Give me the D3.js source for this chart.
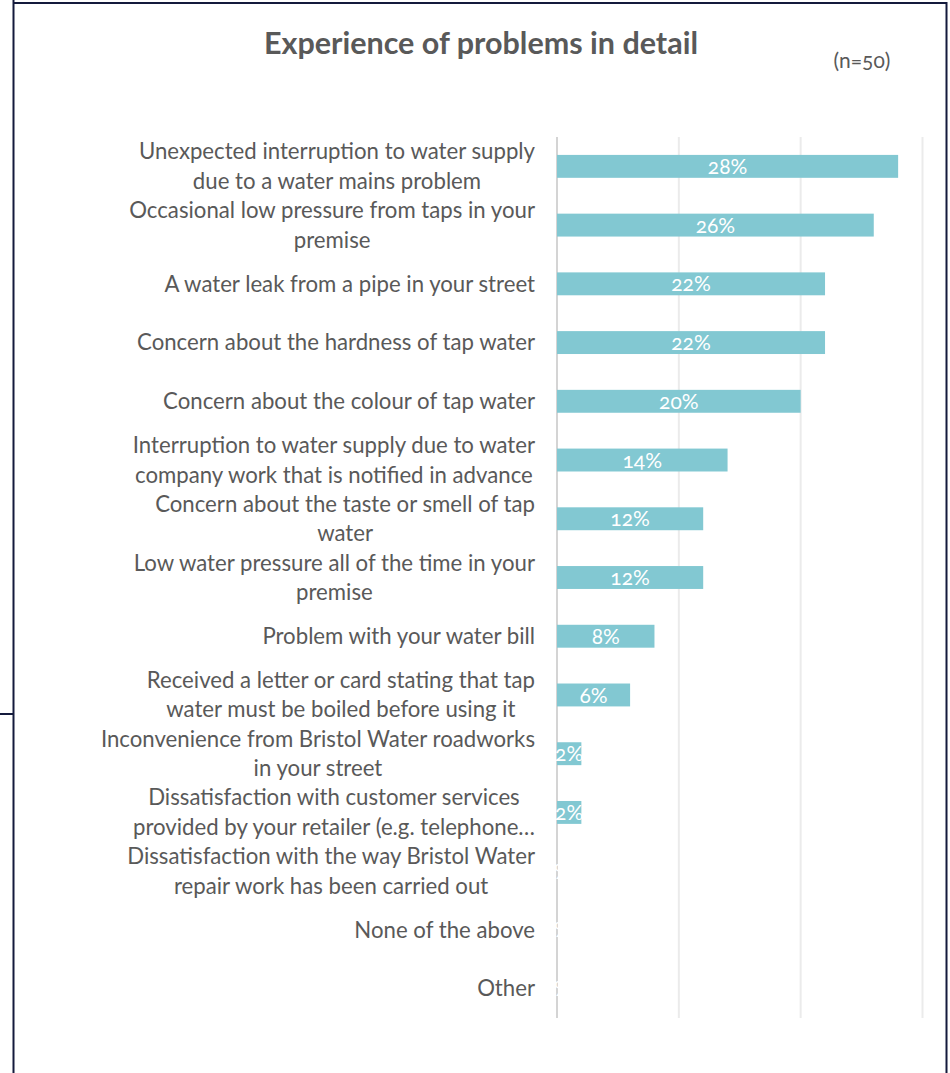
<!DOCTYPE html>
<html>
<head>
<meta charset="utf-8">
<script src="https://cdn.jsdelivr.net/npm/d3@7"></script>
<style>
  html, body { margin: 0; padding: 0; background: #fff; }
  svg { display: block; font-family: Lato, "Open Sans", sans-serif; }
  .val { font-variant-numeric: oldstyle-nums; font-feature-settings: "onum" 1; }
</style>
</head>
<body>
<svg id="chart" width="950" height="1073"></svg>
<script>
// Survey categories (each entry is the list of wrapped label lines)
const categories = [
  ["Unexpected interruption to water supply", "due to a water mains problem"],
  ["Occasional low pressure from taps in your", "premise"],
  ["A water leak from a pipe in your street"],
  ["Concern about the hardness of tap water"],
  ["Concern about the colour of tap water"],
  ["Interruption to water supply due to water", "company work that is notified in advance"],
  ["Concern about the taste or smell of tap", "water"],
  ["Low water pressure all of the time in your", "premise"],
  ["Problem with your water bill"],
  ["Received a letter or card stating that tap", "water must be boiled before using it"],
  ["Inconvenience from Bristol Water roadworks", "in your street"],
  ["Dissatisfaction with customer services", "provided by your retailer (e.g. telephone…"],
  ["Dissatisfaction with the way Bristol Water", "repair work has been carried out"],
  ["None of the above"],
  ["Other"]
];
// Share of respondents reporting each problem (%)
const values = [28, 26, 22, 22, 20, 14, 12, 12, 8, 6, 2, 2, 0, 0, 0];
const gridTicks = [0, 10, 20, 30];
const titleText = "Experience of problems in detail";
const sampleText = "(n=50)";

const svg = d3.select("#chart");

// outer frame
const frame = svg.append("g").attr("stroke", "#141a3c").attr("stroke-width", 2).attr("fill", "none");
frame.append("line").attr("x1", 13.5).attr("x2", 13.5).attr("y1", 0).attr("y2", 1073);
frame.append("line").attr("x1", 13).attr("x2", 947).attr("y1", 3).attr("y2", 3);
frame.append("line").attr("x1", 946.5).attr("x2", 946.5).attr("y1", 2).attr("y2", 1073);
frame.append("line").attr("x1", 0).attr("x2", 13).attr("y1", 714).attr("y2", 714);

// title and sample size
svg.append("text").attr("x", 481).attr("y", 54).attr("text-anchor", "middle")
  .attr("font-size", 30.5).attr("font-weight", 700).attr("fill", "#595959").text(titleText);
svg.append("text").attr("x", 862).attr("y", 68).attr("text-anchor", "middle")
  .attr("font-size", 21).attr("fill", "#595959").attr("class", "val").text(sampleText);

const x = d3.scaleLinear().domain([0, 30]).range([557, 922.5]);
const y = d3.scaleBand().domain(d3.range(categories.length)).range([137, 1018])
  .paddingInner(0.61).paddingOuter(0.305);

// vertical gridlines
svg.append("g").selectAll("line").data(gridTicks).join("line")
  .attr("x1", d => x(d)).attr("x2", d => x(d))
  .attr("y1", 137).attr("y2", 1018)
  .attr("stroke", d => d === 0 ? "#d4d4d4" : "#ebebeb").attr("stroke-width", 2);

// bars
svg.append("g").selectAll("rect").data(values).join("rect")
  .attr("x", x(0)).attr("y", (d, i) => y(i))
  .attr("width", d => x(d) - x(0)).attr("height", y.bandwidth())
  .attr("fill", "#82c8d2");

// value labels inside bars
svg.append("g").selectAll("text").data(values).join("text")
  .attr("class", "val")
  .attr("x", d => (x(d) + x(0)) / 2)
  .attr("y", (d, i) => y(i) + y.bandwidth() / 2)
  .attr("dy", "0.36em").attr("text-anchor", "middle")
  .attr("font-size", 21).attr("fill", "#ffffff")
  .text(d => d + "%");

// category labels: block right-aligned, lines centred within it
const labelRight = 535;
const lineH = 29.5;
const lab = svg.append("g").attr("font-size", 22.2).attr("fill", "#595959");
categories.forEach((lines, i) => {
  const cy = y(i) + y.bandwidth() / 2;
  const g = lab.append("g");
  const texts = lines.map((ln, k) => g.append("text")
    .attr("y", cy + (k - (lines.length - 1) / 2) * lineH)
    .attr("dy", "0.35em").attr("text-anchor", "middle").text(ln));
  const w = d3.max(texts, t => t.node().getComputedTextLength());
  texts.forEach(t => t.attr("x", labelRight - w / 2));
});
</script>
</body>
</html>
